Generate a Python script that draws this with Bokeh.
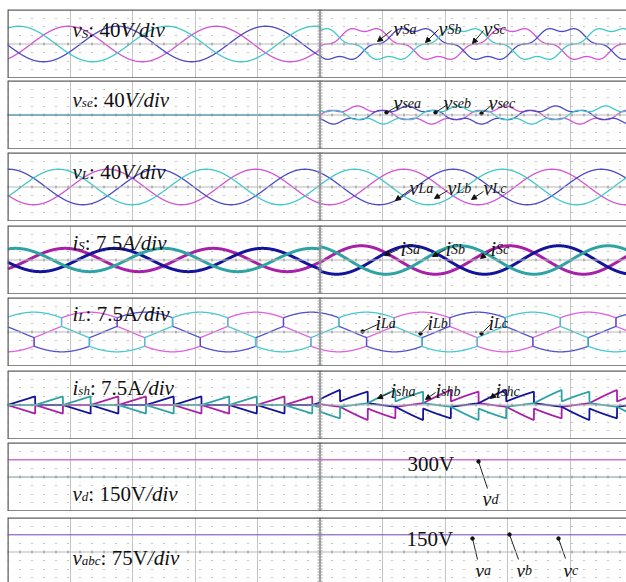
import numpy as np
from bokeh.plotting import figure
from bokeh.layouts import column
from bokeh.models import Label, Span, Arrow, NormalHead, FixedTicker
from bokeh.embed import file_html
from bokeh.resources import INLINE

# ---------------- scope screen geometry ----------------
DIV_PX = 62.5            # pixels per time division
ROW_PX = 8.625           # pixels per amplitude division
X_MAX = 619 / DIV_PX     # visible time span (divisions)
T_ON = 5.0               # compensator switched on at this division

# ---------------- trace parameters (in divisions) ----------------
PERIOD_V = 2.37          # fundamental period, voltage traces
PERIOD_I = 2.66          # fundamental period, load / shunt current traces

# source voltage v_S (phases a, b, c)
VS_PEAK = [0.97, 1.76, 0.18]
VS_AMP = 2.06
VS_FUND_ON = 1.75
VS_H5_ON = -0.30

# series injected voltage v_se
VSE_PEAK = [5.60, 6.40, 7.20]
VSE_FUND_ON = 0.80
VSE_H5_ON = 0.25

# load voltage v_L
VL_PEAK = [1.60, 0.02, 0.81]
VL_AMP = 2.06

# source current i_S
IS_PEAK = [0.92, 1.71, 0.13]
IS_AMP = 1.35
IS_AMP_ON = 1.65

# load current i_L (sine part + 120-degree block part)
IL_PEAK = [1.31, 2.20, 0.42]
IL_SINE = 1.30
IL_STEP = 1.00

# shunt current i_sh: ramp direction in each 60-degree interval
ISH_PATTERN = [1, 0, -1, -1, 0, 1]
ISH_SHIFT = [4, 0, 2]          # interval shift of phases a, b, c
ISH_TIP0 = 0.0                 # first commutation instant
ISH_H = 1.0
ISH_H_ON = 1.35
ISH_FUND_ON = 0.40

# dc-link and phase dc voltages
VD_VOLT = 300
VD_SCALE = 150           # V/div
VABC_VOLT = [150, 150, 150]
VABC_SCALE = 75          # V/div

# ---------------- colours (phase a, b, c) ----------------
C_V = ["#d452d4", "#4a4ac8", "#40c8c8"]
C_I = ["#a81fa8", "#14149a", "#2ea3a3"]
C_IL = ["#e060e0", "#5050d0", "#48c8d0"]

FRAME_TOP = [9, 80, 152, 225, 297, 370, 442, 517]
FIG_H = [78, 71, 72, 73, 72, 73, 72, 71]
BORDER_TOP = [9, 2, 3, 4, 3, 4, 3, 6]

x = np.linspace(0, X_MAX, 5000)
on = x >= T_ON


def theta(peak, period):
    return 2 * np.pi * (x - peak) / period


def block120(th):
    c = np.cos(th)
    return np.where(c > 0.5, 1.0, np.where(c < -0.5, -1.0, 0.0))


def px_x(px):
    return (px - 7) / DIV_PX


def px_y(py, k):
    return 4 - (py - FRAME_TOP[k]) / ROW_PX


SERIF = "Liberation Serif"
W_REG = {" ": .25, ":": .278, ".": .25, "/": .278, "V": .722, "A": .722,
         "d": .5, "i": .278, "v": .5}
W_IT = {"v": .444, "s": .389, "S": .5, "e": .444, "L": .556, "h": .5,
        "d": .5, "i": .278, "V": .611, "a": .5, "b": .5, "c": .444,
        "/": .278, "A": .611, ":": .333}


def text_w(s, italic):
    tab = W_IT if italic else W_REG
    return sum(tab.get(ch, 0.5) for ch in s)


def rich(p, k, px, py, parts, size=21, sub_size=13, sub_drop=3):
    off = 0.0
    for txt, italic, sub in parts:
        fs = sub_size if sub else size
        p.add_layout(Label(x=px_x(px), y=px_y(py, k), x_offset=off,
                           y_offset=-sub_drop if sub else 0, text=txt,
                           text_font=SERIF,
                           text_font_style="italic" if italic else "normal",
                           text_font_size=f"{fs}px", text_baseline="alphabetic",
                           text_color="#111111"))
        off += text_w(txt, italic) * fs


def pointer(p, k, x0, y0, x1, y1, dot=False):
    if dot:
        p.segment(px_x(x0), px_y(y0, k), px_x(x1), px_y(y1, k),
                  line_color="#222222", line_width=1)
        p.scatter([px_x(x1)], [px_y(y1, k)], size=3.5, color="#111111")
    else:
        p.add_layout(Arrow(end=NormalHead(size=5, fill_color="#111111",
                                          line_color="#111111"),
                           x_start=px_x(x0), y_start=px_y(y0, k),
                           x_end=px_x(x1), y_end=px_y(y1, k),
                           line_color="#222222", line_width=1))


def panel(k):
    fh = FIG_H[k] - BORDER_TOP[k]
    y0 = 4 - fh / ROW_PX
    p = figure(width=626, height=FIG_H[k], x_range=(0, X_MAX), y_range=(y0, 4),
               output_backend="svg", toolbar_location=None,
               x_axis_location=None, y_axis_location=None,
               min_border_left=7, min_border_right=0,
               min_border_top=BORDER_TOP[k], min_border_bottom=0,
               outline_line_color=None, background_fill_color="white")
    p.xgrid.ticker = FixedTicker(ticks=[1, 2, 3, 4, 6, 7, 8, 9])
    p.xgrid.grid_line_color = "#c4c4c4"
    p.xgrid.grid_line_width = 1
    p.ygrid.ticker = FixedTicker(ticks=[-3, -2, -1, 1, 2, 3])
    p.ygrid.grid_line_color = "#8a8a8a"
    p.ygrid.grid_line_dash = "1 11"
    # centre axes of the graticule
    p.add_layout(Span(location=0, dimension="width", line_color="#b8b8b8",
                      line_width=1))
    p.add_layout(Span(location=0, dimension="width", line_color="#8a8a8a",
                      line_width=3, line_dash="1 11"))
    p.add_layout(Span(location=T_ON, dimension="height", line_color="#808080",
                      line_width=1.5))
    p.add_layout(Span(location=T_ON, dimension="height", line_color="#a0a0a0",
                      line_width=5, line_dash="1 2"))
    # frame border
    p.add_layout(Span(location=4, dimension="width", line_color="#5f5f5f",
                      line_width=2.5))
    if k < 7:
        p.add_layout(Span(location=y0, dimension="width", line_color="#5f5f5f",
                          line_width=2.5))
    p.add_layout(Span(location=0, dimension="height", line_color="#5f5f5f",
                      line_width=2.5))
    return p


figs = [panel(k) for k in range(8)]

# 1: source voltage
p = figs[0]
for i in range(3):
    th = theta(VS_PEAK[i], PERIOD_V)
    y = np.where(on, VS_FUND_ON * np.cos(th) + VS_H5_ON * np.cos(5 * th),
                 VS_AMP * np.cos(th))
    p.line(x, y, line_color=C_V[i], line_width=1.3)

# 2: series injected voltage
p = figs[1]
for i in range(3):
    th = theta(VSE_PEAK[i], PERIOD_V)
    y = np.where(on, VSE_FUND_ON * np.cos(th) + VSE_H5_ON * np.cos(5 * th), 0.0)
    p.line(x, y, line_color=C_V[i], line_width=1.3)

# 3: load voltage
p = figs[2]
for i in range(3):
    th = theta(VL_PEAK[i], PERIOD_V)
    p.line(x, VL_AMP * np.cos(th), line_color=C_V[i], line_width=1.3)

# 4: source current
p = figs[3]
for i in range(3):
    th = theta(IS_PEAK[i], PERIOD_V)
    y = np.where(on, IS_AMP_ON, IS_AMP) * np.cos(th)
    p.line(x, y, line_color=C_I[i], line_width=3)

# 5: load current
p = figs[4]
for i in range(3):
    th = theta(IL_PEAK[i], PERIOD_I)
    p.line(x, IL_SINE * np.cos(th) + IL_STEP * block120(th),
           line_color=C_IL[i], line_width=1.3)

# 6: shunt current, ramps between commutations
p = figs[5]
seg = PERIOD_I / 6
pos = (x - ISH_TIP0) / seg
n = np.floor(pos).astype(int)
frac = pos - n
h = np.where(on, ISH_H_ON, ISH_H)
for i in range(3):
    direction = np.array(ISH_PATTERN)[(n - ISH_SHIFT[i]) % 6]
    th = theta(ISH_TIP0 + ISH_SHIFT[i] * seg, PERIOD_I)
    y = direction * h * frac + np.where(on, ISH_FUND_ON, 0.0) * np.cos(th)
    p.line(x, y, line_color=C_I[i], line_width=1.8)

# 7: dc-link voltage
p = figs[6]
p.line(x, np.zeros_like(x), line_color="#52b0b0", line_width=1)
p.line(x, np.full_like(x, VD_VOLT / VD_SCALE), line_color="#d070d0", line_width=1.3)

# 8: phase dc voltages
p = figs[7]
for i in [2, 1, 0]:
    p.line(x, np.full_like(x, VABC_VOLT[i] / VABC_SCALE), line_color=C_V[i],
           line_width=1.2, line_alpha=0.6)

# ---------------- panel titles ----------------
rich(figs[0], 0, 72, 29.5, [("v", True, False), ("S", True, True), (": 40", False, False), ("V/div", True, False)])
rich(figs[1], 1, 72, 99, [("v", True, False), ("se", True, True), (": 40", False, False), ("V/div", True, False)])
rich(figs[2], 2, 72, 171, [("v", True, False), ("L", True, True), (": 40", False, False), ("V/div", True, False)])
rich(figs[3], 3, 72, 242, [("i", True, False), ("S", True, True), (": 7.5", False, False), ("A/div", True, False)])
rich(figs[4], 4, 72, 313, [("i", True, False), ("L", True, True), (": 7.5A", False, False), ("/div", True, False)])
rich(figs[5], 5, 72, 387, [("i", True, False), ("sh", True, True), (": 7.5A", False, False), ("/div", True, False)])
rich(figs[6], 6, 72, 493, [("v", True, False), ("d", True, True), (": 150V", False, False), ("/div", True, False)])
rich(figs[7], 7, 72, 557, [("v", True, False), ("abc", True, True), (": 75V", False, False), ("/div", True, False)])

# ---------------- trace callouts ----------------
ann = [
    (0, "v", ["Sa", "Sb", "Sc"], [393, 438, 483], 28, [(391, 30, 377, 41), (438, 29, 425, 42), (483, 30, 472, 43)], False),
    (1, "v", ["sea", "seb", "sec"], [393, 443, 488], 102, [(400, 104, 386, 112), (447, 104, 435, 112), (492, 104, 481, 113)], True),
    (2, "v", ["La", "Lb", "Lc"], [409, 447, 483], 187, [(410, 189, 395, 200), (447, 190, 434, 198), (483, 191, 471, 199)], False),
    (3, "i", ["Sa", "Sb", "Sc"], [400, 445, 490], 248, [(398, 249, 384, 255), (445, 249, 432, 256), (492, 249, 480, 258)], False),
    (4, "i", ["La", "Lb", "Lc"], [375, 427, 488], 322, [(377, 324, 362, 331), (428, 324, 420, 333), (490, 324, 481, 333)], True),
    (5, "i", ["sha", "shb", "shc"], [390, 435, 495], 390, [(390, 392, 377, 398), (435, 392, 425, 399), (497, 392, 490, 398)], False),
]
for k, base, subs, xs, yb, arrows, dot in ann:
    for s, xx, a in zip(subs, xs, arrows):
        rich(figs[k], k, xx, yb, [(base, True, False), (s, True, True)], size=20, sub_size=14, sub_drop=1)
        pointer(figs[k], k, *a, dot=dot)

rich(figs[6], 6, 407, 463, [("300V", False, False)])
pointer(figs[6], 6, 487, 488, 478, 461, dot=True)
rich(figs[6], 6, 482, 498, [("v", True, False), ("d", True, True)], size=20, sub_size=14, sub_drop=1)

rich(figs[7], 7, 406, 538, [("150V", False, False)])
for lab, (xa, ya, xb, yb2) in zip(["a", "b", "c"], [(477, 559, 472, 538), (518, 559, 509, 534), (565, 558, 558, 538)]):
    pointer(figs[7], 7, xa, ya, xb, yb2, dot=True)
    rich(figs[7], 7, xa - 2, 570, [("v", True, False), (lab, True, True)], size=19, sub_size=14, sub_drop=0)

layout = column(*figs, spacing=0)
open("out.html", "w").write(file_html(layout, INLINE))
